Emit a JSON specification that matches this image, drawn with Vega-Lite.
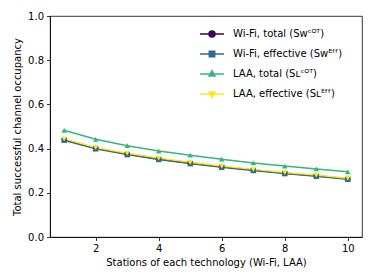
{
  "$schema": "https://vega.github.io/schema/vega-lite/v6.json",
  "width": 312,
  "height": 221,
  "autosize": "none",
  "padding": {"left": 50, "top": 16, "right": 12, "bottom": 43},
  "config": {
    "font": "DejaVu Sans",
    "view": {"stroke": "black", "strokeWidth": 0.8},
    "axis": {
      "domainColor": "black", "domainWidth": 0.8, "tickColor": "black", "tickWidth": 0.8, "tickSize": 3.5,
      "labelFontSize": 10, "titleFontSize": 10, "labelColor": "black", "titleColor": "black",
      "titleFontWeight": "normal", "grid": false, "labelFont": "DejaVu Sans", "titleFont": "DejaVu Sans"
    }
  },
  "data": {"values": [
    {"n": 1, "s": "Wi-Fi, total (Sᴡᶜᴼᵀ)", "v": 0.440},
    {"n": 2, "s": "Wi-Fi, total (Sᴡᶜᴼᵀ)", "v": 0.401},
    {"n": 3, "s": "Wi-Fi, total (Sᴡᶜᴼᵀ)", "v": 0.375},
    {"n": 4, "s": "Wi-Fi, total (Sᴡᶜᴼᵀ)", "v": 0.353},
    {"n": 5, "s": "Wi-Fi, total (Sᴡᶜᴼᵀ)", "v": 0.334},
    {"n": 6, "s": "Wi-Fi, total (Sᴡᶜᴼᵀ)", "v": 0.318},
    {"n": 7, "s": "Wi-Fi, total (Sᴡᶜᴼᵀ)", "v": 0.303},
    {"n": 8, "s": "Wi-Fi, total (Sᴡᶜᴼᵀ)", "v": 0.289},
    {"n": 9, "s": "Wi-Fi, total (Sᴡᶜᴼᵀ)", "v": 0.277},
    {"n": 10, "s": "Wi-Fi, total (Sᴡᶜᴼᵀ)", "v": 0.263},
    {"n": 1, "s": "Wi-Fi, effective (Sᴡᴱᶠᶠ)", "v": 0.438},
    {"n": 2, "s": "Wi-Fi, effective (Sᴡᴱᶠᶠ)", "v": 0.399},
    {"n": 3, "s": "Wi-Fi, effective (Sᴡᴱᶠᶠ)", "v": 0.373},
    {"n": 4, "s": "Wi-Fi, effective (Sᴡᴱᶠᶠ)", "v": 0.351},
    {"n": 5, "s": "Wi-Fi, effective (Sᴡᴱᶠᶠ)", "v": 0.332},
    {"n": 6, "s": "Wi-Fi, effective (Sᴡᴱᶠᶠ)", "v": 0.316},
    {"n": 7, "s": "Wi-Fi, effective (Sᴡᴱᶠᶠ)", "v": 0.301},
    {"n": 8, "s": "Wi-Fi, effective (Sᴡᴱᶠᶠ)", "v": 0.287},
    {"n": 9, "s": "Wi-Fi, effective (Sᴡᴱᶠᶠ)", "v": 0.275},
    {"n": 10, "s": "Wi-Fi, effective (Sᴡᴱᶠᶠ)", "v": 0.261},
    {"n": 1, "s": "LAA, total (Sʟᶜᴼᵀ)", "v": 0.483},
    {"n": 2, "s": "LAA, total (Sʟᶜᴼᵀ)", "v": 0.442},
    {"n": 3, "s": "LAA, total (Sʟᶜᴼᵀ)", "v": 0.413},
    {"n": 4, "s": "LAA, total (Sʟᶜᴼᵀ)", "v": 0.389},
    {"n": 5, "s": "LAA, total (Sʟᶜᴼᵀ)", "v": 0.370},
    {"n": 6, "s": "LAA, total (Sʟᶜᴼᵀ)", "v": 0.352},
    {"n": 7, "s": "LAA, total (Sʟᶜᴼᵀ)", "v": 0.335},
    {"n": 8, "s": "LAA, total (Sʟᶜᴼᵀ)", "v": 0.321},
    {"n": 9, "s": "LAA, total (Sʟᶜᴼᵀ)", "v": 0.308},
    {"n": 10, "s": "LAA, total (Sʟᶜᴼᵀ)", "v": 0.295},
    {"n": 1, "s": "LAA, effective (Sʟᴱᶠᶠ)", "v": 0.444},
    {"n": 2, "s": "LAA, effective (Sʟᴱᶠᶠ)", "v": 0.405},
    {"n": 3, "s": "LAA, effective (Sʟᴱᶠᶠ)", "v": 0.379},
    {"n": 4, "s": "LAA, effective (Sʟᴱᶠᶠ)", "v": 0.357},
    {"n": 5, "s": "LAA, effective (Sʟᴱᶠᶠ)", "v": 0.338},
    {"n": 6, "s": "LAA, effective (Sʟᴱᶠᶠ)", "v": 0.321},
    {"n": 7, "s": "LAA, effective (Sʟᴱᶠᶠ)", "v": 0.306},
    {"n": 8, "s": "LAA, effective (Sʟᴱᶠᶠ)", "v": 0.292},
    {"n": 9, "s": "LAA, effective (Sʟᴱᶠᶠ)", "v": 0.280},
    {"n": 10, "s": "LAA, effective (Sʟᴱᶠᶠ)", "v": 0.266}
  ]},
  "encoding": {
    "x": {"field": "n", "type": "quantitative",
      "scale": {"domain": [0.55, 10.45], "nice": false, "zero": false},
      "axis": {"values": [2, 4, 6, 8, 10], "title": "Stations of each technology (Wi-Fi, LAA)", "titlePadding": 4, "labelPadding": 3}},
    "y": {"field": "v", "type": "quantitative",
      "scale": {"domain": [0, 1], "nice": false},
      "axis": {"values": [0, 0.2, 0.4, 0.6, 0.8, 1.0], "format": ".1f", "title": "Total successful channel occupancy", "titlePadding": 5, "labelPadding": 3}},
    "color": {"field": "s", "type": "nominal",
      "scale": {"domain": ["Wi-Fi, total (Sᴡᶜᴼᵀ)", "Wi-Fi, effective (Sᴡᴱᶠᶠ)", "LAA, total (Sʟᶜᴼᵀ)", "LAA, effective (Sʟᴱᶠᶠ)"],
                "range": ["#440154", "#31688e", "#35b779", "#fde725"]}}
  },
  "layer": [
    {
      "mark": {"type": "line", "strokeWidth": 1.5},
      "encoding": {
        "color": {"field": "s", "type": "nominal",
          "legend": {
            "orient": "none", "legendX": 155, "legendY": 11, "title": null, "padding": 0,
            "symbolSize": 144, "symbolStrokeWidth": 1.5, "labelOffset": 14, "rowPadding": 7,
            "labelFontSize": 10, "labelColor": "black", "labelFont": "DejaVu Sans", "labelLimit": 300,
            "encode": {"symbols": {"update": {
              "shape": {"signal": "indexof(domain('color'), datum.value) === 0 ? 'M-2,0H2M0.5,0A0.5,0.5 0 1,1 -0.5,0A0.5,0.5 0 1,1 0.5,0Z' : indexof(domain('color'), datum.value) === 1 ? 'M-2,0H2M-0.45,-0.45H0.45V0.45H-0.45Z' : indexof(domain('color'), datum.value) === 2 ? 'M-2,0H2M0,-0.55L0.5,0.35H-0.5Z' : 'M-2,0H2M0,0.55L0.5,-0.35H-0.5Z'"},
              "fill": {"signal": "scale('color', datum.value)"},
              "stroke": {"signal": "scale('color', datum.value)"},
              "strokeWidth": {"value": 1.5}
            }}}
          }}
      }
    },
    {
      "transform": [{"filter": {"field": "s", "equal": "Wi-Fi, total (Sᴡᶜᴼᵀ)"}}],
      "mark": {"type": "point", "filled": true, "opacity": 1, "size": 26, "shape": "circle"},
      "encoding": {"color": {"field": "s", "type": "nominal", "legend": null}}
    },
    {
      "transform": [{"filter": {"field": "s", "equal": "Wi-Fi, effective (Sᴡᴱᶠᶠ)"}}],
      "mark": {"type": "point", "filled": true, "opacity": 1, "size": 30, "shape": "square"},
      "encoding": {"color": {"field": "s", "type": "nominal", "legend": null}}
    },
    {
      "transform": [{"filter": {"field": "s", "equal": "LAA, total (Sʟᶜᴼᵀ)"}}],
      "mark": {"type": "point", "filled": true, "opacity": 1, "size": 30, "shape": "triangle-up"},
      "encoding": {"color": {"field": "s", "type": "nominal", "legend": null}}
    },
    {
      "transform": [{"filter": {"field": "s", "equal": "LAA, effective (Sʟᴱᶠᶠ)"}}],
      "mark": {"type": "point", "filled": true, "opacity": 1, "size": 30, "shape": "triangle-down"},
      "encoding": {"color": {"field": "s", "type": "nominal", "legend": null}}
    }
  ]
}
